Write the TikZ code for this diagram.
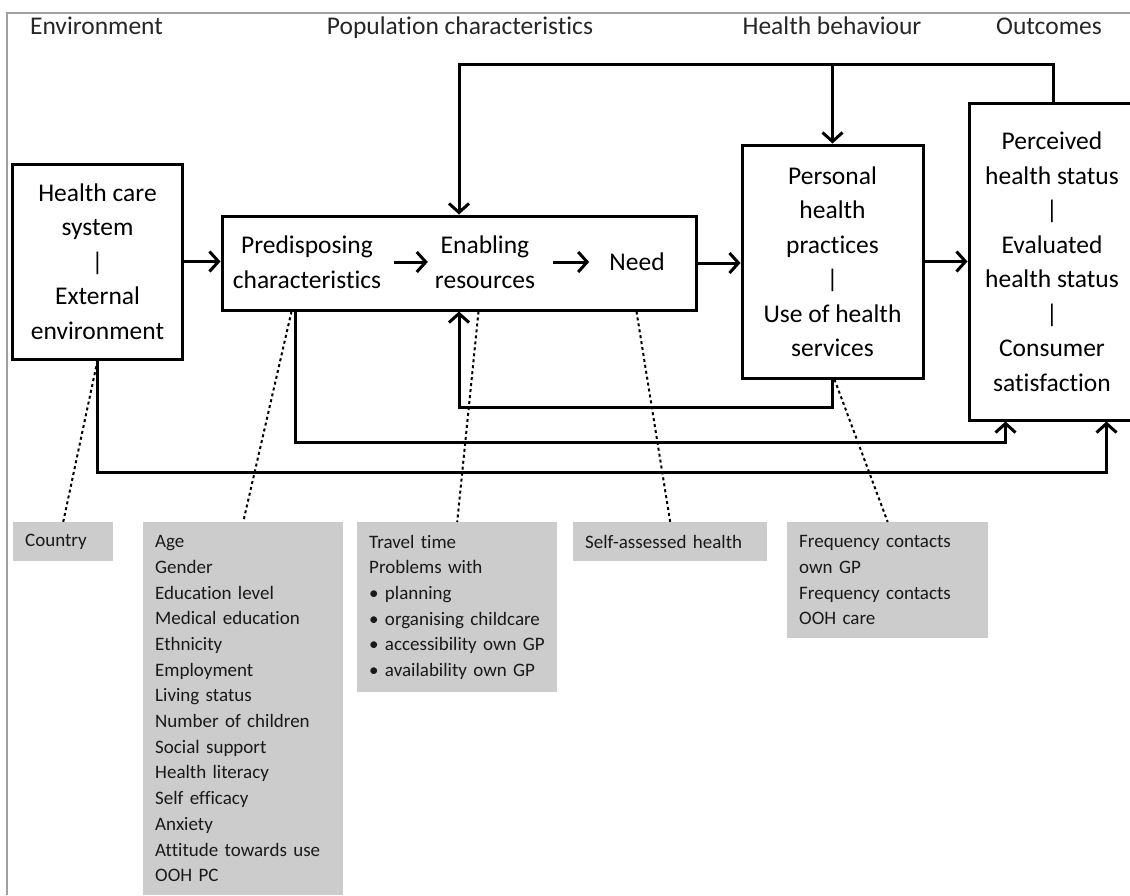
\documentclass[tikz,border=0pt]{standalone}
\usepackage{fontspec}
\setmainfont{Carlito}[Ligatures=NoCommon]
\usepackage{xcolor}
\usetikzlibrary{arrows.meta,calc}
\definecolor{listgray}{RGB}{204,204,204}
\definecolor{framegray}{RGB}{160,160,160}

\begin{document}
\begin{tikzpicture}[x=1pt,y=-1pt]
  \tikzset{box/.style = {draw, line width=3pt, align=center, inner sep=0pt, font=\fontsize{25.5}{34.5}\selectfont}}
  \tikzset{item/.style = {inner sep=5pt, align=center, font=\fontsize{25.5}{34.5}\selectfont}}
  \tikzset{list/.style = {fill=listgray, anchor=north west, align=left, inner xsep=12pt, text=black!90, font=\fontsize{19}{25.7}\selectfont}}
  \tikzset{link/.style = {line width=3pt, -{Straight Barb[length=9pt,width=20pt]}}}
  \tikzset{hint/.style = {line width=2pt, dash pattern=on 3pt off 3pt}}
  \tikzset{head/.style = {anchor=base, text=black!85, font=\fontsize{25.5}{30}\selectfont}}

  \useasboundingbox (0,0) rectangle (1130,895);
  \draw[framegray, line width=1.5pt] (7,895) -- (7,13) -- (1130,13);

  % column heads
  \node[head] (env) at (96.5,34) {Environment};
  \node[head] (popchar) at (460,34) {Population characteristics};
  \node[head] (behav) at (832,34) {Health behaviour};
  \node[head] (outc) at (1049,34) {Outcomes};

  % boxes
  \node[box, minimum width=170, minimum height=195] (hcs) at (97.5,261.5) {Health care\\system\\|\\External\\environment};
  \node[box, minimum width=474, minimum height=94] (pop) at (459,263) {};
  \node[item] (pred) at (307,262) {Predisposing\\characteristics};
  \node[item] (enab) at (485,262) {Enabling\\resources};
  \node[item] (need) at (637,262) {Need};
  \node[box, minimum width=181, minimum height=233] (pers) at (832.5,261.5) {Personal\\health\\practices\\|\\Use of health\\services};
  \node[box, minimum width=166, minimum height=317] (out) at (1052,261.5) {Perceived\\health status\\|\\Evaluated\\health status\\|\\Consumer\\satisfaction};

  % variable lists
  \node[list, text width=76, minimum height=39] (country) at (13,522) {Country};
  \node[list, text width=176, minimum height=373] (predlist) at (143,522) {Age\\Gender\\Education level\\Medical education\\Ethnicity\\Employment\\Living status\\Number of children\\Social support\\Health literacy\\Self efficacy\\Anxiety\\Attitude towards use\\OOH PC};
  \node[list, text width=176, minimum height=170] (enablist) at (357,522) {Travel time\\Problems with\\\textbullet{} planning\\\textbullet{} organising childcare\\\textbullet{} accessibility own GP\\\textbullet{} availability own GP};
  \node[list, text width=170, minimum height=39] (selflist) at (573,522) {Self-assessed health};
  \node[list, text width=177, minimum height=116] (freqlist) at (787,522) {Frequency contacts\\own GP\\Frequency contacts\\OOH care};

  % main flow
  \draw[link] (hcs.east) -- (hcs.east -| pop.west);
  \draw[link, shorten <=8pt, shorten >=2pt] (pred) -- (enab);
  \draw[link, shorten <=13pt, shorten >=15pt] (enab) -- (need);
  \draw[link] (pop.east) -- (pop.east -| pers.west);
  \draw[link] (pers.east) -- (pers.east -| out.west);

  % feedback lines
  \coordinate (fbtop) at (0,64);
  \draw[link] ($(out.north)+(1,0)$) |- (fbtop -| pop.north) -- (pop.north);
  \draw[link] (pers.north |- fbtop) -- (pers.north);
  \draw[link] (pers.south) |- ($(pop.south)+(0,96)$) -- (pop.south);
  \draw[link] ($(pop.south west)+(75,0)$) -- ++(0,131) -| ($(out.south west)+(38,0)$);
  \draw[link] (hcs.south) -- ++(0,112) -| ($(out.south west)+(139,0)$);

  % dotted hints to the lists
  \draw[hint] (hcs.south) -- (country.north);
  \draw[hint] ($(pop.south west)+(71,0)$) -- (predlist.north);
  \draw[hint] ($(pop.south west)+(258,0)$) -- (enablist.north);
  \draw[hint] ($(pop.south west)+(416,0)$) -- (selflist.north);
  \draw[hint] ($(pers.south)+(2,0)$) -- (freqlist.north);
\end{tikzpicture}
\end{document}
